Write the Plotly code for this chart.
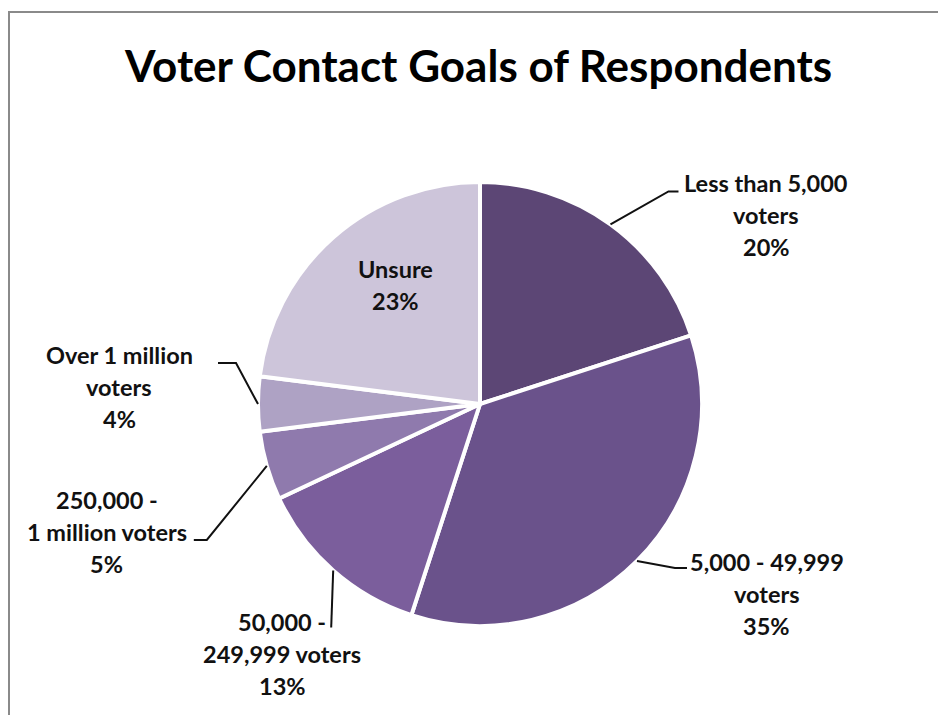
import math
import plotly.graph_objects as go

# ---- data ----
categories = ["Less than 5,000 voters", "5,000 - 49,999 voters", "50,000 - 249,999 voters",
              "250,000 - 1 million voters", "Over 1 million voters", "Unsure"]
label_lines = [["Less than 5,000", "voters"], ["5,000 - 49,999", "voters"],
               ["50,000 -", "249,999 voters"], ["250,000 -", "1 million voters"],
               ["Over 1 million", "voters"], ["Unsure"]]
values = [20, 35, 13, 5, 4, 23]
colors = ["#5c4675", "#6a528b", "#7b5e9c", "#8f7aad", "#aea2c4", "#cdc5da"]

W, H = 938, 715
CX, CY, R = 480, 404, 222

def px(x):
    return x / W

def py(y):
    return 1 - y / H

fig = go.Figure(go.Pie(
    labels=categories, values=values, sort=False, direction="clockwise", rotation=0,
    marker=dict(colors=colors, line=dict(color="white", width=4)),
    textinfo="none", hoverinfo="label+percent", showlegend=False,
    domain=dict(x=[px(CX - R), px(CX + R)], y=[py(CY + R), py(CY - R)]),
))

# label layout: (elbow offset from edge point, end dx from elbow, text center dx / top dy from end)
label_style = [
    dict(elbow=(58, -33), end=10, tx=88, ty=-8),
    dict(elbow=(38, 7), end=12, tx=80, ty=-6),
    dict(elbow=(-2, 57), end=0, tx=-49, ty=-6),
    dict(elbow=(-60, 74), end=-13, tx=-87, ty=-40),
    dict(elbow=(-22, -41), end=-18, tx=-99, ty=-8),
    None,
]

total = sum(values)
cum = 0
annotations = []
shapes = []
font = dict(family="Lato", size=23.5, color="#111111")
line_gap = 32
for i, v in enumerate(values):
    pct = v / total
    mid = (cum + v / 2) / total * 2 * math.pi
    cum += v
    sx = CX + R * math.sin(mid)
    sy = CY - R * math.cos(mid)
    lines = label_lines[i] + [f"{round(pct * 100)}%"]
    st = label_style[i]
    if st is None:
        # inside label
        tx = CX + 0.68 * R * math.sin(mid) + 15
        ty = CY - 0.68 * R * math.cos(mid) - 6
        top = ty - (len(lines) - 1) * line_gap / 2
    else:
        ex, ey = sx + st["elbow"][0], sy + st["elbow"][1]
        fx = ex + st["end"]
        shapes.append(dict(type="path", xref="paper", yref="paper",
                           path=f"M {px(sx)} {py(sy)} L {px(ex)} {py(ey)} L {px(fx)} {py(ey)}",
                           line=dict(color="#111111", width=2)))
        tx = fx + st["tx"]
        top = ey + st["ty"]
    for k, t in enumerate(lines):
        annotations.append(dict(text=f"<b>{t}</b>", x=px(tx), y=py(top + k * line_gap),
                                xref="paper", yref="paper", xanchor="center", yanchor="middle",
                                showarrow=False, font=font))

annotations.append(dict(text="<b>Voter Contact Goals of Respondents</b>", x=px(478), y=py(65),
                        xref="paper", yref="paper", xanchor="center", yanchor="middle",
                        showarrow=False, font=dict(family="Lato", size=44, color="#000000")))

# chart border
shapes.append(dict(type="rect", xref="paper", yref="paper", x0=px(9), y0=-0.1, x1=1.1, y1=py(12),
                   line=dict(color="#8a8a8a", width=2), fillcolor="rgba(0,0,0,0)"))

fig.update_layout(width=W, height=H, margin=dict(l=0, r=0, t=0, b=0),
                  paper_bgcolor="white", plot_bgcolor="white",
                  annotations=annotations, shapes=shapes)
fig.write_html("out.html")
